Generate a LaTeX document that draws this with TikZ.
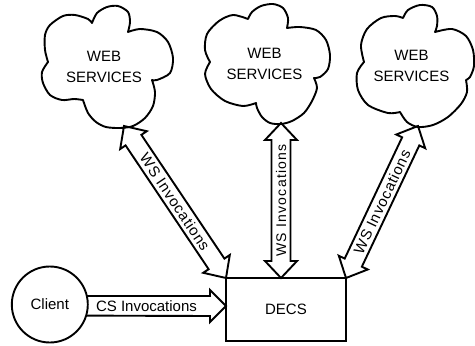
\documentclass[tikz,border=0pt]{standalone}
\usepackage{fontspec}
\setmainfont{Liberation Sans}
\usetikzlibrary{calc}
\newcommand\fatboth[2]{%
  \coordinate (fa) at ($(#1)!17pt!(#2)$);
  \coordinate (fb) at ($(#2)!17pt!(#1)$);
  \draw[fat] (#1) -- ($(fa)!16pt!90:(#2)$) -- ($(fa)!9.5pt!90:(#2)$)
    -- ($(fb)!9.5pt!-90:(#1)$) -- ($(fb)!16pt!-90:(#1)$) -- (#2)
    -- ($(fb)!16pt!90:(#1)$) -- ($(fb)!9.5pt!90:(#1)$)
    -- ($(fa)!9.5pt!-90:(#2)$) -- ($(fa)!16pt!-90:(#2)$) -- cycle;
}
\begin{document}
\begin{tikzpicture}[x=1pt,y=-1pt,
  outline/.style={line width=1.9pt, line join=round, line cap=round},
  fat/.style={line width=1.9pt, line join=miter},
  txt/.style={font=\fontsize{15}{21}\selectfont, align=center, inner sep=0pt},
  wstxt/.style={font=\fontsize{15}{18}\selectfont\addfontfeature{LetterSpace=5}, inner sep=0pt},
  wsmid/.style={font=\fontsize{14}{18}\selectfont\addfontfeature{LetterSpace=9}, inner sep=0pt},
  box/.style={draw, line width=1.9pt, outer sep=0pt, minimum width=120pt, minimum height=63pt, inner sep=0pt, font=\fontsize{15}{18}\selectfont},
  ball/.style={draw, circle, line width=1.9pt, outer sep=0pt, minimum size=76pt, inner sep=0pt, font=\fontsize{15}{18}\selectfont}
]
\useasboundingbox (0,0) rectangle (475,346);

% clouds
\draw[outline] plot[smooth] coordinates {(92,23)(97,13)(107,7)(118,6)(128,12)(130,22)(128,32)}
  -- plot[smooth] coordinates {(128,32)(140,29)(157,32)(168,42)(173,58)(170,73)(157,80)(152,80)}
  -- plot[smooth] coordinates {(152,80)(155,92)(153,106)(145,118)(133,126)(120,128)(106,127)(96,122)(88,113)(83,100)}
  -- plot[smooth] coordinates {(83,100)(74,99)(62,100)(50,95)(43,83)(42,72)(48,62)}
  -- plot[smooth] coordinates {(48,62)(45,50)(45,35)(50,25)(63,16)(75,15)(88,19)(92,23)} -- cycle;
\draw[outline] plot[smooth] coordinates {(248,19)(252,12)(261,6)(273,4)(283,8)(288,18)(287,28)}
  -- plot[smooth] coordinates {(287,28)(300,27)(316,30)(326,40)(330,55)(328,69)(320,77)(314,78)}
  -- plot[smooth] coordinates {(314,78)(317,88)(312,101)(304,113)(292,121)(281,124)(270,123)(262,117)(257,108)(256,103)}
  -- plot[smooth] coordinates {(256,103)(243,106)(225,101)(211,89)(205,74)(210,62)}
  -- plot[smooth] coordinates {(210,62)(205,50)(207,34)(219,21)(233,15)(248,19)} -- cycle;
\draw[outline] plot[smooth] coordinates {(403,18)(408,10)(420,5)(432,7)(437,16)(437,26)(435,32)}
  -- plot[smooth] coordinates {(435,32)(452,29)(466,36)(473,50)(474,66)(470,77)(466,80)}
  -- plot[smooth] coordinates {(466,80)(467,92)(461,104)(448,117)(433,125)(418,127)(407,122)(400,112)}
  -- plot[smooth] coordinates {(400,112)(388,113)(368,105)(358,90)(357,73)(364,62)}
  -- plot[smooth] coordinates {(364,62)(361,45)(367,29)(381,18)(395,16)(403,18)} -- cycle;

\node[txt] (ws1) at (104,66.5) {WEB\\SERVICES};
\node[txt] (ws2) at (264.5,63.5) {WEB\\SERVICES};
\node[txt] (ws3) at (411.5,66) {WEB\\SERVICES};

% main nodes
\node[box] (decs) at (286,309.5) {DECS};
\node[ball] (client) at (49.8,304.5) {Client};

% arrow end points
\coordinate (t1) at (124,126);
\coordinate (t2) at (281,123);
\coordinate (t3) at (418,126);
\coordinate (b1) at (decs.north west);
\coordinate (b2) at ([xshift=-5pt]decs.north);
\coordinate (b3) at (decs.north east);
\coordinate (cst) at ([yshift=3.5pt]decs.west);

\fatboth{t1}{b1}
\fatboth{t2}{b2}
\fatboth{t3}{b3}

\draw[fat] (client.13) -- ($(cst)+(-16,-10)$) -- ($(cst)+(-16,-16)$) -- (cst)
  -- ($(cst)+(-16,16)$) -- ($(cst)+(-16,10)$) -- (client.-17.6);

% labels
\path (t1) -- (b1) node[wstxt, midway, sloped] {WS Invocations};
\path (b3) -- (t3) node[wstxt, midway, sloped] {WS Invocations};
\node[wsmid, rotate=90] at ($(t2)!0.5!(b2)$) {WS Invocations};
\node[txt] at (146.5,306) {CS Invocations};
\end{tikzpicture}
\end{document}
